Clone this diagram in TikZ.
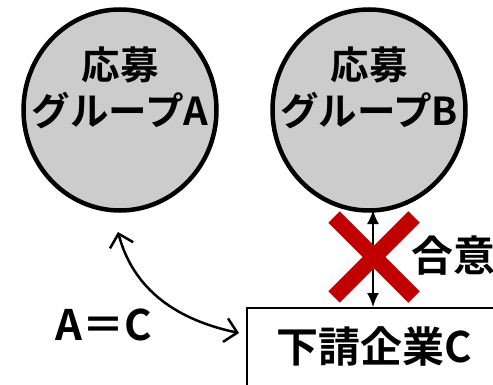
\documentclass[tikz,border=0pt]{standalone}
\usepackage{fontspec}
\setmainfont{Noto Sans CJK JP}[BoldFont={Noto Sans CJK JP Bold}]
\usetikzlibrary{arrows.meta}
\usetikzlibrary{shapes.geometric}
\definecolor{groupgray}{HTML}{CCCCCC}
\definecolor{crossred}{HTML}{C00000}
\tikzset{
	group/.style={ellipse, draw, line width=4.5pt, fill=groupgray,
		minimum width=193pt, minimum height=201pt, inner sep=0pt},
	grouptext/.style={font=\bfseries\fontsize{38.5}{46}\selectfont, align=center},
	bigtext/.style={font=\bfseries\fontsize{42}{44}\selectfont},
	firm/.style={draw, line width=2.2pt, anchor=north west,
		minimum width=300pt, minimum height=120pt}
}

\begin{document}
\begin{tikzpicture}[x=1pt, y=-1pt]
	% canvas: 493 x 385
	\useasboundingbox (0,0) rectangle (493,385);
	% applicant groups
	\node[group] (A) at (120,110) {};
	\node[group] (B) at (369,110) {};
	\node[grouptext] (tA) at (120,88) {応募\\グループA};
	\node[grouptext] (tB) at (369,88) {応募\\グループB};
	% subcontractor box (runs off the page)
	\node[firm] (C) at (246,307) {};
	\node[bigtext, anchor=west] (tC) at (273,346) {下請企業C};
	% A = C relation
	\coordinate (pA) at (118,232);
	\coordinate (pC) at (239,333);
	\draw[{Straight Barb[length=12pt,width=24pt,line width=2.5pt]}-{Straight Barb[length=12pt,width=24pt,line width=2.5pt]}, line width=2.5pt]
		(pA) to[out=-75, in=168] (pC);
	\node[bigtext] (eq) at (104,325) {A＝C};
	% agreement between B and C
	\coordinate (pB) at (373,210);
	\draw[{Latex[length=14pt,width=12pt]}-{Latex[length=14pt,width=12pt]}, line width=2pt]
		(pB) -- (pB |- C.north);
	\draw[crossred, line width=16pt] (334,217) -- (414,297);
	\draw[crossred, line width=16pt] (414,217) -- (334,297);
	\node[bigtext, anchor=west] (agree) at (408,256) {合意};
\end{tikzpicture}
\end{document}
